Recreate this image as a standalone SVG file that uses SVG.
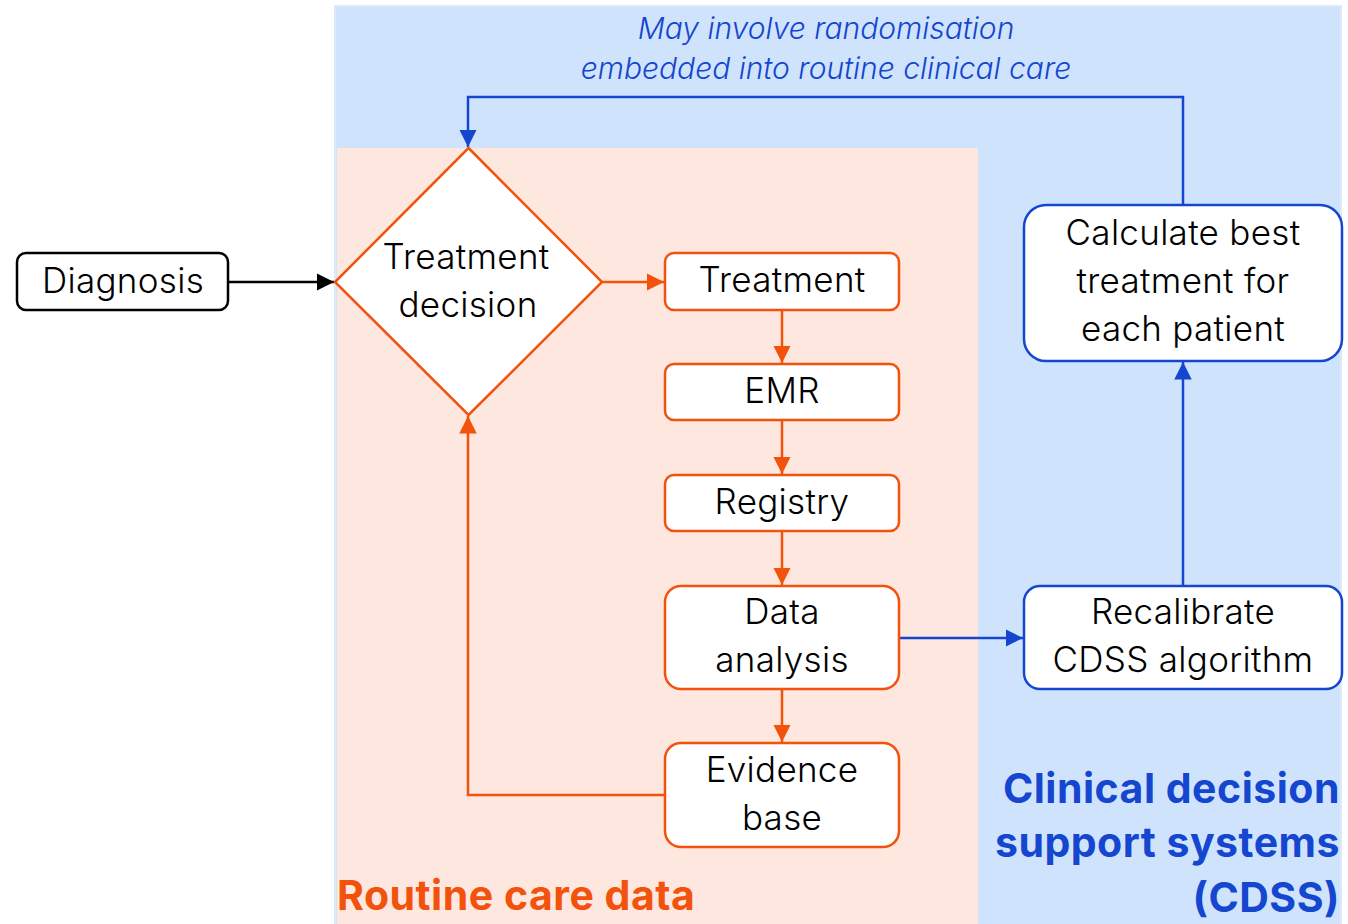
<svg xmlns="http://www.w3.org/2000/svg" width="1348" height="924" viewBox="0 0 1348 924">
<defs>
<style>
.bg-blue{fill:#cfe4fc;stroke:#dde9f8;stroke-width:2}
.bg-orange{fill:#fde7de}
.node-o{fill:#fff;stroke:#f2520c;stroke-width:2.5}
.node-b{fill:#fff;stroke:#1546d0;stroke-width:2.5}
.node-k{fill:#fff;stroke:#000;stroke-width:2.5}
.lbl{font-family:Inter,"Liberation Sans",sans-serif;font-size:35px;font-weight:300;fill:#000;text-anchor:middle;letter-spacing:0.3px}
.c-o{fill:none;stroke:#f2520c;stroke-width:2.5}
.c-b{fill:none;stroke:#1546d0;stroke-width:2.5}
.c-k{fill:none;stroke:#000;stroke-width:2.5}
.note{font-family:Inter,"Liberation Sans",sans-serif;font-size:30px;font-style:italic;font-weight:300;fill:#1546d0;text-anchor:middle}
.title-b{font-family:Inter,"Liberation Sans",sans-serif;font-size:41px;font-weight:700;fill:#1546d0;text-anchor:end;letter-spacing:0.5px}
.title-o{font-family:Inter,"Liberation Sans",sans-serif;font-size:41px;font-weight:700;fill:#f2520c;letter-spacing:0.5px}
</style>
<marker id="ao" viewBox="0 0 10 10" refX="10" refY="5" markerWidth="7" markerHeight="7" markerUnits="strokeWidth" orient="auto"><path d="M0,0L10,5L0,10z" fill="#f2520c"/></marker>
<marker id="ab" viewBox="0 0 10 10" refX="10" refY="5" markerWidth="7" markerHeight="7" markerUnits="strokeWidth" orient="auto"><path d="M0,0L10,5L0,10z" fill="#1546d0"/></marker>
<marker id="ak" viewBox="0 0 10 10" refX="10" refY="5" markerWidth="7" markerHeight="7" markerUnits="strokeWidth" orient="auto"><path d="M0,0L10,5L0,10z" fill="#000"/></marker>
</defs>
<rect width="1348" height="924" fill="#fff"/>
<g id="region-cdss">
<rect class="bg-blue" x="335" y="6" width="1006" height="920"/>
<text class="title-b" x="1340" y="803">Clinical decision</text>
<text class="title-b" x="1340" y="857">support systems</text>
<text class="title-b" x="1340" y="912">(CDSS)</text>
</g>
<g id="region-routine">
<rect class="bg-orange" x="337" y="148" width="641" height="776"/>
<text class="title-o" x="337" y="910">Routine care data</text>
</g>
<g id="connectors">
<path class="c-k" d="M228,282H334" marker-end="url(#ak)"/>
<path class="c-o" d="M602,282H664" marker-end="url(#ao)"/>
<path class="c-o" d="M782,310V363" marker-end="url(#ao)"/>
<path class="c-o" d="M782,420V474" marker-end="url(#ao)"/>
<path class="c-o" d="M782,531V585" marker-end="url(#ao)"/>
<path class="c-o" d="M782,689V742" marker-end="url(#ao)"/>
<path class="c-o" d="M665,795H468V416" marker-end="url(#ao)"/>
<path class="c-b" d="M899,638H1023" marker-end="url(#ab)"/>
<path class="c-b" d="M1183,586V362" marker-end="url(#ab)"/>
<path class="c-b" d="M1183,205V97H468V147" marker-end="url(#ab)"/>
<text class="note" x="826" y="39">May involve randomisation</text>
<text class="note" x="826" y="79">embedded into routine clinical care</text>
</g>
<g id="diagnosis">
<rect class="node-k" x="17" y="253" width="211" height="57" rx="9"/>
<text class="lbl" x="123" y="293">Diagnosis</text>
</g>
<g id="treatment-decision">
<path class="node-o" d="M468.5,148L602,282L468.5,415L335,282z"/>
<text class="lbl" x="466" y="269">Treatment</text>
<text class="lbl" x="468" y="317">decision</text>
</g>
<g id="treatment">
<rect class="node-o" x="665" y="253" width="234" height="57" rx="9"/>
<text class="lbl" x="782" y="292">Treatment</text>
</g>
<g id="emr">
<rect class="node-o" x="665" y="364" width="234" height="56" rx="9"/>
<text class="lbl" x="782" y="403">EMR</text>
</g>
<g id="registry">
<rect class="node-o" x="665" y="475" width="234" height="56" rx="9"/>
<text class="lbl" x="782" y="514">Registry</text>
</g>
<g id="data-analysis">
<rect class="node-o" x="665" y="586" width="234" height="103" rx="16"/>
<text class="lbl" x="782" y="624">Data</text>
<text class="lbl" x="782" y="672">analysis</text>
</g>
<g id="evidence-base">
<rect class="node-o" x="665" y="743" width="234" height="104" rx="16"/>
<text class="lbl" x="782" y="782">Evidence</text>
<text class="lbl" x="782" y="830">base</text>
</g>
<g id="recalibrate">
<rect class="node-b" x="1024" y="586" width="318" height="103" rx="16"/>
<text class="lbl" x="1183" y="624">Recalibrate</text>
<text class="lbl" x="1183" y="672">CDSS algorithm</text>
</g>
<g id="calculate">
<rect class="node-b" x="1024" y="205" width="318" height="156" rx="22"/>
<text class="lbl" x="1183" y="245">Calculate best</text>
<text class="lbl" x="1183" y="293">treatment for</text>
<text class="lbl" x="1183" y="341">each patient</text>
</g>
</svg>
